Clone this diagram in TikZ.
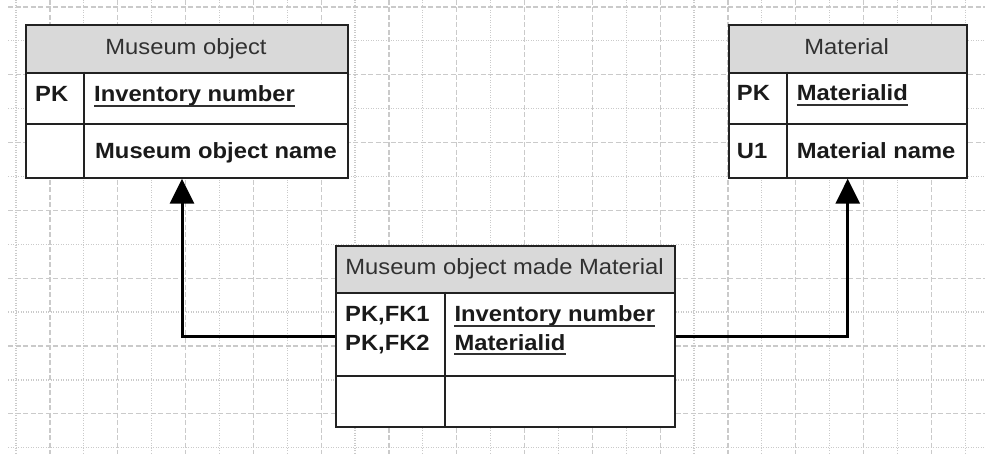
\documentclass[tikz,border=0pt]{standalone}
\usepackage{fontspec}
\setmainfont[FakeStretch=1.08]{Liberation Sans}
\usetikzlibrary{arrows.meta}
\definecolor{gridc}{HTML}{CACACA}
\definecolor{linec}{HTML}{222222}
\definecolor{hdrgray}{HTML}{D9D9D9}
\definecolor{textc}{HTML}{1A1A1A}
\begin{document}
\begin{tikzpicture}[x=1pt,y=-1pt,
  box/.style={draw=linec, line width=2pt, inner sep=0pt, anchor=north west},
  hdrbox/.style={box, fill=hdrgray},
  sep/.style={draw=linec, line width=2pt},
  title/.style={anchor=base, inner sep=0pt, font=\fontsize{22}{26}\selectfont, text=textc!90},
  field/.style={anchor=base west, inner sep=0pt, font=\fontsize{22}{26}\selectfont\bfseries, text=textc},
  uline/.style={line width=1.8pt, draw=textc!90},
  conn/.style={draw=black, line width=3pt, -{Triangle[length=25pt,width=24pt]}},
  gmajor/.style={draw=gridc, line width=1.2pt, dash pattern=on 5pt off 2.5pt},
  gminor/.style={draw=gridc, line width=1.2pt, dash pattern=on 1pt off 1.5pt}]
\useasboundingbox (0,0) rectangle (985,454);

% background grid
\foreach \k in {0,2,...,28} \draw[gminor] ({16+33.9*\k},0) -- ({16+33.9*\k},454);
\foreach \k in {1,3,...,27} \draw[gmajor] ({16+33.9*\k},0) -- ({16+33.9*\k},454);
\foreach \j in {0,2,...,12} \draw[gmajor] (8,{7+33.9*\j}) -- (985,{7+33.9*\j});
\foreach \j in {1,3,...,13} \draw[gminor] (8,{7+33.9*\j}) -- (985,{7+33.9*\j});

% Museum object
\node[hdrbox, minimum width=322pt, minimum height=47.7pt] (moH) at (25,24) {};
\node[box, fill=white, minimum width=322pt, minimum height=105pt] (moR) at (25,71.7) {};
\node[box, minimum width=322pt, minimum height=152.7pt] (mo) at (25,24) {};
\draw[sep] (25,124.3) -- (347,124.3);
\draw[sep] (84.3,71.7) -- (84.3,176.7);
\node[title] (moT) at (186,55) {Museum object};
\node[field] (moPK) at (35,102) {PK};
\node[field] (moInv) at (94,102) {Inventory number};
\draw[uline] ([yshift=-4pt]moInv.base west) -- ([yshift=-4pt]moInv.base east);
\node[field] (moName) at (95,158.5) {Museum object name};

% Material
\node[hdrbox, minimum width=238pt, minimum height=47.7pt] (matH) at (727.7,24) {};
\node[box, fill=white, minimum width=238pt, minimum height=105pt] (matR) at (727.7,71.7) {};
\node[box, minimum width=238pt, minimum height=152.7pt] (mat) at (727.7,24) {};
\draw[sep] (727.7,124.3) -- (965.7,124.3);
\draw[sep] (787.3,71.7) -- (787.3,176.7);
\node[title] (matT) at (846.7,55) {Material};
\node[field] (matPK) at (736.7,101) {PK};
\node[field] (matId) at (796.7,101) {Materialid};
\draw[uline] ([yshift=-4pt]matId.base west) -- ([yshift=-4pt]matId.base east);
\node[field] (matU) at (736.7,158.5) {U1};
\node[field] (matName) at (796.7,158.5) {Material name};

% Museum object made Material
\node[hdrbox, minimum width=339pt, minimum height=46.7pt] (mmH) at (335,245) {};
\node[box, fill=white, minimum width=339pt, minimum height=134.3pt] (mmR) at (335,291.7) {};
\node[box, minimum width=339pt, minimum height=181pt] (mm) at (335,245) {};
\draw[sep] (335,376) -- (674,376);
\draw[sep] (445.3,291.7) -- (445.3,426);
\node[title] (mmT) at (504.5,275) {Museum object made Material};
\node[field] (mmK1) at (345,321.7) {PK,FK1};
\node[field] (mmK2) at (345,350) {PK,FK2};
\node[field] (mmInv) at (454.3,321.7) {Inventory number};
\draw[uline] ([yshift=-4pt]mmInv.base west) -- ([yshift=-4pt]mmInv.base east);
\node[field] (mmId) at (454.3,350) {Materialid};
\draw[uline] ([yshift=-4pt]mmId.base west) -- ([yshift=-4pt]mmId.base east);

% relationships
\draw[conn] (mm.west) -| ([xshift=-5pt]mo.south);
\draw[conn] (mm.east) -| (mat.south);
\end{tikzpicture}
\end{document}
